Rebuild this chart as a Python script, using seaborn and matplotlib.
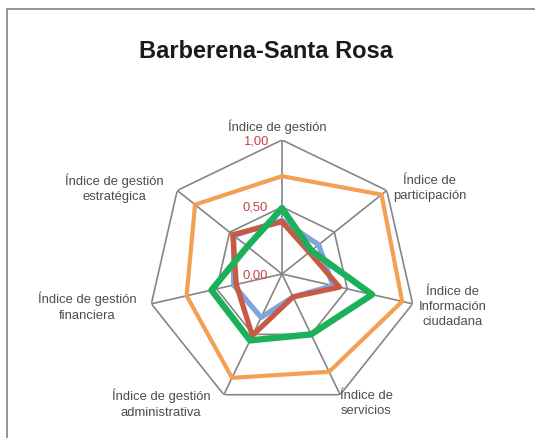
import numpy as np
import pandas as pd
import matplotlib
matplotlib.use('Agg')
import matplotlib.pyplot as plt
import seaborn as sns

# --- datos del gráfico ---
categorias = ['Índice de gestión', 'Índice de\nparticipación', 'Índice de\nInformación\nciudadana',
              'Índice de\nservicios', 'Índice de gestión\nadministrativa',
              'Índice de gestión\nfinanciera', 'Índice de gestión\nestratégica']
serie_azul = [0.40, 0.35, 0.39, 0.19, 0.36, 0.37, 0.46]
serie_roja = [0.39, 0.26, 0.44, 0.19, 0.51, 0.35, 0.47]
serie_naranja = [0.73, 0.95, 0.92, 0.81, 0.86, 0.73, 0.83]
serie_verde = [0.49, 0.28, 0.69, 0.50, 0.55, 0.54, 0.33]
nombres = ['Serie 1', 'Serie 2', 'Serie 3', 'Serie 4']
ticks = [0.0, 0.5, 1.0]
tick_labels = ['0,00', '0,50', '1,00']
titulo = 'Barberena-Santa Rosa'

sns.set_theme(style='white')
plt.rcParams['font.family'] = ['Liberation Sans', 'DejaVu Sans']

n = len(categorias)
angulos = np.linspace(0, 2 * np.pi, n, endpoint=False)
ang_cerrado = np.append(angulos, 2 * np.pi)

# tabla larga para seaborn
filas = []
for nombre, vals in zip(nombres, [serie_azul, serie_roja, serie_naranja, serie_verde]):
    for i, (a, v) in enumerate(zip(ang_cerrado, vals + vals[:1])):
        filas.append({'serie': nombre, 'theta': a, 'valor': v, 'orden': i})
df = pd.DataFrame(filas)

colores = {'Serie 1': '#7EA6DC', 'Serie 2': '#C85A45', 'Serie 3': '#F2A154', 'Serie 4': '#1DB05A'}
grosores = {'Serie 1': 3.8, 'Serie 2': 3.8, 'Serie 3': 3.0, 'Serie 4': 4.6}

fig = plt.figure(figsize=(5.35, 4.39), dpi=100)
fig.patch.set_facecolor('white')

# marco gris del área del gráfico
fig.add_artist(plt.Line2D([7 / 535, 7 / 535], [0, 1 - 10 / 439], color='#8c8c8c', lw=1.3))
fig.add_artist(plt.Line2D([7 / 535, 1], [1 - 10 / 439, 1 - 10 / 439], color='#8c8c8c', lw=1.3))

cx, cy, R = 282, 275, 134
ax = fig.add_axes([(cx - R) / 535, (439 - cy - R) / 439, 2 * R / 535, 2 * R / 439], projection='polar')
ax.set_theta_zero_location('N')
ax.set_theta_direction(-1)
ax.grid(False)
ax.spines['polar'].set_visible(False)
ax.set_xticks([])
ax.set_yticks([])
ax.set_facecolor('none')

# rejilla heptagonal y radios
for r in ticks[1:]:
    ax.plot(ang_cerrado, [r] * (n + 1), color='#858585', lw=1.2, zorder=1)
for a in angulos:
    ax.plot([a, a], [0, 1], color='#858585', lw=1.2, zorder=1)

sns.lineplot(data=df, x='theta', y='valor', hue='serie', size='serie', sizes=grosores,
             palette=colores, units='serie', estimator=None, sort=False, legend=False,
             ax=ax, zorder=3)
ax.set_xlabel('')
ax.set_ylabel('')
ax.set_ylim(0, 1)

# etiquetas de categorías
desplaz = [(-5, 14), (43, 3), (40, -2), (26, -8), (-63, -8), (-64, -2), (-63, 3)]
for a, txt, (dx, dy) in zip(angulos, categorias, desplaz):
    ax.annotate(txt, xy=(a, 1.0), xytext=(dx, dy), textcoords='offset pixels',
                ha='center', va='center', fontsize=9.4, color='#4d4d4d',
                linespacing=1.35, annotation_clip=False)

# etiquetas del eje radial
for r, lab in zip(ticks, tick_labels):
    ax.annotate(lab, xy=(0, r), xytext=(-14, 0), textcoords='offset pixels',
                ha='right', va='center', fontsize=9.4, color='#C8414B', annotation_clip=False)

fig.text(266 / 535, 1 - 51 / 439, titulo, ha='center', va='center',
         fontsize=17, fontweight='bold', color='#1a1a1a')

fig.savefig('out.png', dpi=100)
